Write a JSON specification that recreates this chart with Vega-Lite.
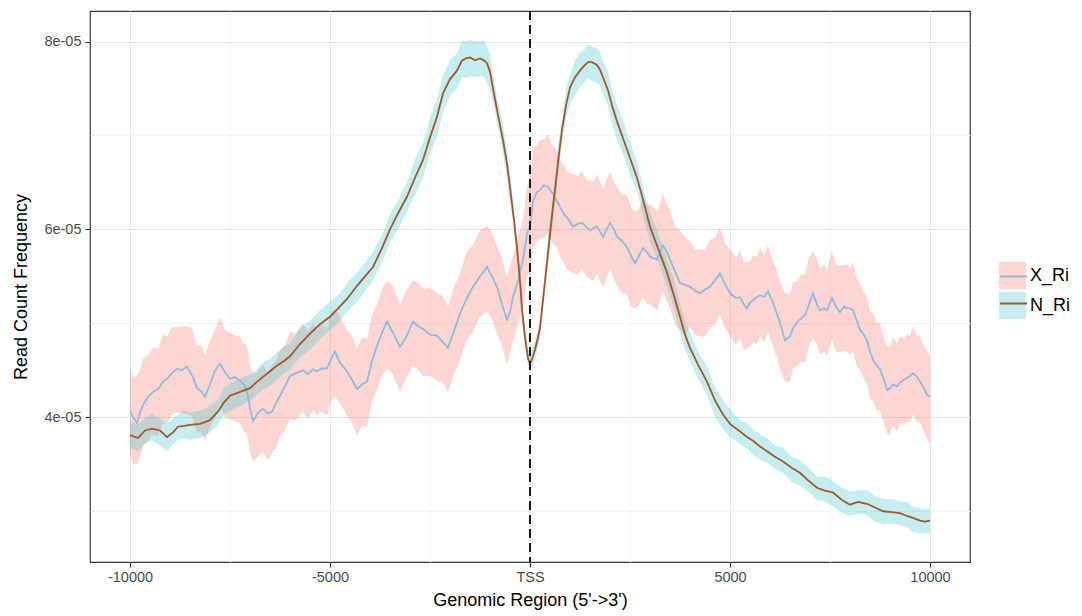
{
 "$schema": "https://vega.github.io/schema/vega-lite/v6.json",
 "width": 880,
 "height": 551,
 "autosize": {"type": "none"},
 "padding": {"left": 90, "top": 11, "right": 112, "bottom": 54},
 "background": "white",
 "config": {
  "font": "Liberation Sans",
  "view": {"stroke": "#3a3a3a", "strokeWidth": 1.2},
  "axis": {"domain": false, "labelFont": "Liberation Sans", "labelFontSize": 14.5, "labelColor": "#4d4d4d", "tickColor": "#333333", "tickSize": 5, "tickWidth": 1, "titleFont": "Liberation Sans", "titleFontSize": 18, "titleFontWeight": "normal", "titleColor": "#000000", "gridWidth": 1},
  "legend": {"labelFont": "Liberation Sans", "labelFontSize": 18, "labelColor": "#000000", "padding": 0, "rowPadding": 3, "labelOffset": 4}
 },
 "data": {"values": [
{"s":"X_Ri","x":-10000,"m":4.07e-5,"lo":3.61e-5,"hi":4.54e-5},
{"s":"X_Ri","x":-9925,"m":4.00e-5,"lo":3.50e-5,"hi":4.43e-5},
{"s":"X_Ri","x":-9825,"m":3.94e-5,"lo":3.50e-5,"hi":4.44e-5},
{"s":"X_Ri","x":-9750,"m":4.05e-5,"lo":3.57e-5,"hi":4.50e-5},
{"s":"X_Ri","x":-9675,"m":4.13e-5,"lo":3.70e-5,"hi":4.62e-5},
{"s":"X_Ri","x":-9550,"m":4.22e-5,"lo":3.75e-5,"hi":4.66e-5},
{"s":"X_Ri","x":-9425,"m":4.27e-5,"lo":3.81e-5,"hi":4.74e-5},
{"s":"X_Ri","x":-9300,"m":4.30e-5,"lo":3.80e-5,"hi":4.73e-5},
{"s":"X_Ri","x":-9175,"m":4.38e-5,"lo":3.94e-5,"hi":4.88e-5},
{"s":"X_Ri","x":-9075,"m":4.41e-5,"lo":3.93e-5,"hi":4.86e-5},
{"s":"X_Ri","x":-8950,"m":4.47e-5,"lo":4.04e-5,"hi":4.96e-5},
{"s":"X_Ri","x":-8825,"m":4.52e-5,"lo":4.05e-5,"hi":4.96e-5},
{"s":"X_Ri","x":-8700,"m":4.50e-5,"lo":4.04e-5,"hi":4.97e-5},
{"s":"X_Ri","x":-8575,"m":4.54e-5,"lo":4.04e-5,"hi":4.97e-5},
{"s":"X_Ri","x":-8450,"m":4.45e-5,"lo":4.01e-5,"hi":4.95e-5},
{"s":"X_Ri","x":-8325,"m":4.31e-5,"lo":3.83e-5,"hi":4.76e-5},
{"s":"X_Ri","x":-8225,"m":4.28e-5,"lo":3.85e-5,"hi":4.77e-5},
{"s":"X_Ri","x":-8125,"m":4.22e-5,"lo":3.75e-5,"hi":4.66e-5},
{"s":"X_Ri","x":-8000,"m":4.35e-5,"lo":3.89e-5,"hi":4.82e-5},
{"s":"X_Ri","x":-7875,"m":4.50e-5,"lo":4.00e-5,"hi":4.93e-5},
{"s":"X_Ri","x":-7750,"m":4.57e-5,"lo":4.13e-5,"hi":5.07e-5},
{"s":"X_Ri","x":-7625,"m":4.48e-5,"lo":4.00e-5,"hi":4.93e-5},
{"s":"X_Ri","x":-7500,"m":4.41e-5,"lo":3.98e-5,"hi":4.90e-5},
{"s":"X_Ri","x":-7375,"m":4.43e-5,"lo":3.96e-5,"hi":4.87e-5},
{"s":"X_Ri","x":-7250,"m":4.39e-5,"lo":3.93e-5,"hi":4.86e-5},
{"s":"X_Ri","x":-7150,"m":4.35e-5,"lo":3.85e-5,"hi":4.78e-5},
{"s":"X_Ri","x":-7075,"m":4.27e-5,"lo":3.83e-5,"hi":4.77e-5},
{"s":"X_Ri","x":-7000,"m":4.10e-5,"lo":3.62e-5,"hi":4.55e-5},
{"s":"X_Ri","x":-6925,"m":3.96e-5,"lo":3.53e-5,"hi":4.45e-5},
{"s":"X_Ri","x":-6800,"m":4.05e-5,"lo":3.58e-5,"hi":4.49e-5},
{"s":"X_Ri","x":-6675,"m":4.09e-5,"lo":3.63e-5,"hi":4.56e-5},
{"s":"X_Ri","x":-6550,"m":4.04e-5,"lo":3.54e-5,"hi":4.47e-5},
{"s":"X_Ri","x":-6450,"m":4.06e-5,"lo":3.62e-5,"hi":4.56e-5},
{"s":"X_Ri","x":-6350,"m":4.15e-5,"lo":3.67e-5,"hi":4.60e-5},
{"s":"X_Ri","x":-6250,"m":4.23e-5,"lo":3.80e-5,"hi":4.72e-5},
{"s":"X_Ri","x":-6125,"m":4.33e-5,"lo":3.86e-5,"hi":4.77e-5},
{"s":"X_Ri","x":-6000,"m":4.44e-5,"lo":3.98e-5,"hi":4.91e-5},
{"s":"X_Ri","x":-5850,"m":4.47e-5,"lo":3.97e-5,"hi":4.90e-5},
{"s":"X_Ri","x":-5675,"m":4.50e-5,"lo":4.06e-5,"hi":5.00e-5},
{"s":"X_Ri","x":-5550,"m":4.46e-5,"lo":3.98e-5,"hi":4.91e-5},
{"s":"X_Ri","x":-5425,"m":4.51e-5,"lo":4.08e-5,"hi":5.00e-5},
{"s":"X_Ri","x":-5325,"m":4.49e-5,"lo":4.02e-5,"hi":4.93e-5},
{"s":"X_Ri","x":-5200,"m":4.52e-5,"lo":4.06e-5,"hi":4.99e-5},
{"s":"X_Ri","x":-5075,"m":4.52e-5,"lo":4.02e-5,"hi":4.95e-5},
{"s":"X_Ri","x":-4975,"m":4.62e-5,"lo":4.18e-5,"hi":5.12e-5},
{"s":"X_Ri","x":-4875,"m":4.70e-5,"lo":4.22e-5,"hi":5.15e-5},
{"s":"X_Ri","x":-4750,"m":4.58e-5,"lo":4.15e-5,"hi":5.07e-5},
{"s":"X_Ri","x":-4575,"m":4.49e-5,"lo":4.02e-5,"hi":4.93e-5},
{"s":"X_Ri","x":-4450,"m":4.40e-5,"lo":3.94e-5,"hi":4.87e-5},
{"s":"X_Ri","x":-4325,"m":4.30e-5,"lo":3.80e-5,"hi":4.73e-5},
{"s":"X_Ri","x":-4200,"m":4.35e-5,"lo":3.91e-5,"hi":4.85e-5},
{"s":"X_Ri","x":-4075,"m":4.38e-5,"lo":3.90e-5,"hi":4.83e-5},
{"s":"X_Ri","x":-3950,"m":4.60e-5,"lo":4.17e-5,"hi":5.09e-5},
{"s":"X_Ri","x":-3825,"m":4.76e-5,"lo":4.29e-5,"hi":5.20e-5},
{"s":"X_Ri","x":-3700,"m":4.90e-5,"lo":4.44e-5,"hi":5.37e-5},
{"s":"X_Ri","x":-3575,"m":5.02e-5,"lo":4.52e-5,"hi":5.45e-5},
{"s":"X_Ri","x":-3425,"m":4.90e-5,"lo":4.46e-5,"hi":5.40e-5},
{"s":"X_Ri","x":-3250,"m":4.75e-5,"lo":4.27e-5,"hi":5.20e-5},
{"s":"X_Ri","x":-3100,"m":4.85e-5,"lo":4.42e-5,"hi":5.34e-5},
{"s":"X_Ri","x":-2925,"m":5.02e-5,"lo":4.55e-5,"hi":5.46e-5},
{"s":"X_Ri","x":-2800,"m":4.97e-5,"lo":4.51e-5,"hi":5.44e-5},
{"s":"X_Ri","x":-2675,"m":4.94e-5,"lo":4.44e-5,"hi":5.37e-5},
{"s":"X_Ri","x":-2500,"m":4.88e-5,"lo":4.44e-5,"hi":5.38e-5},
{"s":"X_Ri","x":-2325,"m":4.87e-5,"lo":4.39e-5,"hi":5.32e-5},
{"s":"X_Ri","x":-2175,"m":4.80e-5,"lo":4.37e-5,"hi":5.29e-5},
{"s":"X_Ri","x":-2050,"m":4.74e-5,"lo":4.27e-5,"hi":5.18e-5},
{"s":"X_Ri","x":-1900,"m":4.92e-5,"lo":4.46e-5,"hi":5.39e-5},
{"s":"X_Ri","x":-1750,"m":5.10e-5,"lo":4.60e-5,"hi":5.53e-5},
{"s":"X_Ri","x":-1600,"m":5.25e-5,"lo":4.81e-5,"hi":5.75e-5},
{"s":"X_Ri","x":-1425,"m":5.39e-5,"lo":4.91e-5,"hi":5.84e-5},
{"s":"X_Ri","x":-1250,"m":5.50e-5,"lo":5.07e-5,"hi":5.99e-5},
{"s":"X_Ri","x":-1075,"m":5.60e-5,"lo":5.13e-5,"hi":6.04e-5},
{"s":"X_Ri","x":-950,"m":5.50e-5,"lo":5.04e-5,"hi":5.97e-5},
{"s":"X_Ri","x":-825,"m":5.39e-5,"lo":4.89e-5,"hi":5.82e-5},
{"s":"X_Ri","x":-700,"m":5.20e-5,"lo":4.76e-5,"hi":5.70e-5},
{"s":"X_Ri","x":-575,"m":5.04e-5,"lo":4.56e-5,"hi":5.49e-5},
{"s":"X_Ri","x":-500,"m":5.12e-5,"lo":4.69e-5,"hi":5.61e-5},
{"s":"X_Ri","x":-425,"m":5.28e-5,"lo":4.81e-5,"hi":5.72e-5},
{"s":"X_Ri","x":-300,"m":5.45e-5,"lo":4.99e-5,"hi":5.92e-5},
{"s":"X_Ri","x":-175,"m":5.68e-5,"lo":5.18e-5,"hi":6.11e-5},
{"s":"X_Ri","x":-75,"m":5.95e-5,"lo":5.51e-5,"hi":6.45e-5},
{"s":"X_Ri","x":0,"m":6.05e-5,"lo":5.51e-5,"hi":6.56e-5},
{"s":"X_Ri","x":75,"m":6.30e-5,"lo":5.81e-5,"hi":6.85e-5},
{"s":"X_Ri","x":175,"m":6.40e-5,"lo":5.87e-5,"hi":6.90e-5},
{"s":"X_Ri","x":250,"m":6.42e-5,"lo":5.90e-5,"hi":6.95e-5},
{"s":"X_Ri","x":350,"m":6.47e-5,"lo":5.91e-5,"hi":6.96e-5},
{"s":"X_Ri","x":450,"m":6.45e-5,"lo":5.95e-5,"hi":7.01e-5},
{"s":"X_Ri","x":575,"m":6.38e-5,"lo":5.84e-5,"hi":6.89e-5},
{"s":"X_Ri","x":675,"m":6.30e-5,"lo":5.81e-5,"hi":6.85e-5},
{"s":"X_Ri","x":750,"m":6.24e-5,"lo":5.71e-5,"hi":6.74e-5},
{"s":"X_Ri","x":850,"m":6.16e-5,"lo":5.64e-5,"hi":6.69e-5},
{"s":"X_Ri","x":925,"m":6.13e-5,"lo":5.57e-5,"hi":6.62e-5},
{"s":"X_Ri","x":1075,"m":6.03e-5,"lo":5.53e-5,"hi":6.59e-5},
{"s":"X_Ri","x":1200,"m":6.06e-5,"lo":5.52e-5,"hi":6.57e-5},
{"s":"X_Ri","x":1300,"m":6.07e-5,"lo":5.58e-5,"hi":6.62e-5},
{"s":"X_Ri","x":1425,"m":6.02e-5,"lo":5.49e-5,"hi":6.52e-5},
{"s":"X_Ri","x":1500,"m":5.99e-5,"lo":5.47e-5,"hi":6.52e-5},
{"s":"X_Ri","x":1600,"m":6.02e-5,"lo":5.46e-5,"hi":6.51e-5},
{"s":"X_Ri","x":1675,"m":6.03e-5,"lo":5.53e-5,"hi":6.59e-5},
{"s":"X_Ri","x":1825,"m":5.92e-5,"lo":5.38e-5,"hi":6.43e-5},
{"s":"X_Ri","x":2000,"m":6.07e-5,"lo":5.58e-5,"hi":6.62e-5},
{"s":"X_Ri","x":2100,"m":6.00e-5,"lo":5.47e-5,"hi":6.50e-5},
{"s":"X_Ri","x":2175,"m":5.92e-5,"lo":5.40e-5,"hi":6.45e-5},
{"s":"X_Ri","x":2300,"m":5.88e-5,"lo":5.32e-5,"hi":6.37e-5},
{"s":"X_Ri","x":2425,"m":5.81e-5,"lo":5.31e-5,"hi":6.37e-5},
{"s":"X_Ri","x":2525,"m":5.72e-5,"lo":5.18e-5,"hi":6.23e-5},
{"s":"X_Ri","x":2625,"m":5.64e-5,"lo":5.15e-5,"hi":6.19e-5},
{"s":"X_Ri","x":2725,"m":5.72e-5,"lo":5.19e-5,"hi":6.22e-5},
{"s":"X_Ri","x":2825,"m":5.80e-5,"lo":5.28e-5,"hi":6.33e-5},
{"s":"X_Ri","x":2925,"m":5.76e-5,"lo":5.20e-5,"hi":6.25e-5},
{"s":"X_Ri","x":3000,"m":5.71e-5,"lo":5.21e-5,"hi":6.27e-5},
{"s":"X_Ri","x":3175,"m":5.68e-5,"lo":5.14e-5,"hi":6.19e-5},
{"s":"X_Ri","x":3325,"m":5.83e-5,"lo":5.34e-5,"hi":6.38e-5},
{"s":"X_Ri","x":3425,"m":5.76e-5,"lo":5.23e-5,"hi":6.26e-5},
{"s":"X_Ri","x":3500,"m":5.68e-5,"lo":5.16e-5,"hi":6.21e-5},
{"s":"X_Ri","x":3625,"m":5.55e-5,"lo":4.99e-5,"hi":6.04e-5},
{"s":"X_Ri","x":3750,"m":5.43e-5,"lo":4.93e-5,"hi":5.99e-5},
{"s":"X_Ri","x":3875,"m":5.41e-5,"lo":4.87e-5,"hi":5.92e-5},
{"s":"X_Ri","x":4000,"m":5.39e-5,"lo":4.96e-5,"hi":5.88e-5},
{"s":"X_Ri","x":4125,"m":5.35e-5,"lo":4.88e-5,"hi":5.79e-5},
{"s":"X_Ri","x":4250,"m":5.32e-5,"lo":4.86e-5,"hi":5.79e-5},
{"s":"X_Ri","x":4375,"m":5.36e-5,"lo":4.86e-5,"hi":5.79e-5},
{"s":"X_Ri","x":4500,"m":5.39e-5,"lo":4.95e-5,"hi":5.89e-5},
{"s":"X_Ri","x":4625,"m":5.46e-5,"lo":4.98e-5,"hi":5.91e-5},
{"s":"X_Ri","x":4750,"m":5.53e-5,"lo":5.10e-5,"hi":6.02e-5},
{"s":"X_Ri","x":4875,"m":5.42e-5,"lo":4.95e-5,"hi":5.86e-5},
{"s":"X_Ri","x":5000,"m":5.32e-5,"lo":4.86e-5,"hi":5.79e-5},
{"s":"X_Ri","x":5150,"m":5.27e-5,"lo":4.77e-5,"hi":5.70e-5},
{"s":"X_Ri","x":5250,"m":5.28e-5,"lo":4.84e-5,"hi":5.78e-5},
{"s":"X_Ri","x":5350,"m":5.20e-5,"lo":4.72e-5,"hi":5.65e-5},
{"s":"X_Ri","x":5425,"m":5.16e-5,"lo":4.73e-5,"hi":5.65e-5},
{"s":"X_Ri","x":5500,"m":5.22e-5,"lo":4.75e-5,"hi":5.66e-5},
{"s":"X_Ri","x":5575,"m":5.25e-5,"lo":4.79e-5,"hi":5.72e-5},
{"s":"X_Ri","x":5675,"m":5.28e-5,"lo":4.78e-5,"hi":5.71e-5},
{"s":"X_Ri","x":5750,"m":5.30e-5,"lo":4.86e-5,"hi":5.80e-5},
{"s":"X_Ri","x":5850,"m":5.28e-5,"lo":4.80e-5,"hi":5.73e-5},
{"s":"X_Ri","x":5950,"m":5.34e-5,"lo":4.91e-5,"hi":5.83e-5},
{"s":"X_Ri","x":6075,"m":5.22e-5,"lo":4.75e-5,"hi":5.66e-5},
{"s":"X_Ri","x":6175,"m":5.10e-5,"lo":4.64e-5,"hi":5.57e-5},
{"s":"X_Ri","x":6250,"m":5.01e-5,"lo":4.51e-5,"hi":5.44e-5},
{"s":"X_Ri","x":6375,"m":4.82e-5,"lo":4.38e-5,"hi":5.32e-5},
{"s":"X_Ri","x":6500,"m":4.86e-5,"lo":4.38e-5,"hi":5.31e-5},
{"s":"X_Ri","x":6575,"m":4.95e-5,"lo":4.52e-5,"hi":5.44e-5},
{"s":"X_Ri","x":6675,"m":5.01e-5,"lo":4.54e-5,"hi":5.45e-5},
{"s":"X_Ri","x":6775,"m":5.05e-5,"lo":4.59e-5,"hi":5.52e-5},
{"s":"X_Ri","x":6875,"m":5.09e-5,"lo":4.59e-5,"hi":5.52e-5},
{"s":"X_Ri","x":6975,"m":5.20e-5,"lo":4.76e-5,"hi":5.70e-5},
{"s":"X_Ri","x":7075,"m":5.32e-5,"lo":4.84e-5,"hi":5.77e-5},
{"s":"X_Ri","x":7175,"m":5.20e-5,"lo":4.77e-5,"hi":5.69e-5},
{"s":"X_Ri","x":7250,"m":5.14e-5,"lo":4.67e-5,"hi":5.58e-5},
{"s":"X_Ri","x":7350,"m":5.16e-5,"lo":4.70e-5,"hi":5.63e-5},
{"s":"X_Ri","x":7425,"m":5.14e-5,"lo":4.64e-5,"hi":5.57e-5},
{"s":"X_Ri","x":7550,"m":5.27e-5,"lo":4.83e-5,"hi":5.77e-5},
{"s":"X_Ri","x":7650,"m":5.18e-5,"lo":4.70e-5,"hi":5.63e-5},
{"s":"X_Ri","x":7750,"m":5.12e-5,"lo":4.69e-5,"hi":5.61e-5},
{"s":"X_Ri","x":7850,"m":5.18e-5,"lo":4.71e-5,"hi":5.62e-5},
{"s":"X_Ri","x":7925,"m":5.16e-5,"lo":4.70e-5,"hi":5.63e-5},
{"s":"X_Ri","x":8000,"m":5.16e-5,"lo":4.66e-5,"hi":5.59e-5},
{"s":"X_Ri","x":8075,"m":5.14e-5,"lo":4.70e-5,"hi":5.64e-5},
{"s":"X_Ri","x":8175,"m":5.02e-5,"lo":4.54e-5,"hi":5.47e-5},
{"s":"X_Ri","x":8250,"m":4.93e-5,"lo":4.50e-5,"hi":5.42e-5},
{"s":"X_Ri","x":8350,"m":4.88e-5,"lo":4.41e-5,"hi":5.32e-5},
{"s":"X_Ri","x":8425,"m":4.82e-5,"lo":4.36e-5,"hi":5.29e-5},
{"s":"X_Ri","x":8500,"m":4.70e-5,"lo":4.20e-5,"hi":5.13e-5},
{"s":"X_Ri","x":8575,"m":4.61e-5,"lo":4.17e-5,"hi":5.11e-5},
{"s":"X_Ri","x":8675,"m":4.55e-5,"lo":4.07e-5,"hi":5.00e-5},
{"s":"X_Ri","x":8750,"m":4.51e-5,"lo":4.08e-5,"hi":5.00e-5},
{"s":"X_Ri","x":8850,"m":4.40e-5,"lo":3.93e-5,"hi":4.84e-5},
{"s":"X_Ri","x":8925,"m":4.29e-5,"lo":3.83e-5,"hi":4.76e-5},
{"s":"X_Ri","x":9000,"m":4.31e-5,"lo":3.81e-5,"hi":4.74e-5},
{"s":"X_Ri","x":9075,"m":4.35e-5,"lo":3.91e-5,"hi":4.85e-5},
{"s":"X_Ri","x":9175,"m":4.33e-5,"lo":3.85e-5,"hi":4.78e-5},
{"s":"X_Ri","x":9250,"m":4.37e-5,"lo":3.94e-5,"hi":4.86e-5},
{"s":"X_Ri","x":9350,"m":4.40e-5,"lo":3.93e-5,"hi":4.84e-5},
{"s":"X_Ri","x":9425,"m":4.42e-5,"lo":3.96e-5,"hi":4.89e-5},
{"s":"X_Ri","x":9500,"m":4.44e-5,"lo":3.94e-5,"hi":4.87e-5},
{"s":"X_Ri","x":9575,"m":4.47e-5,"lo":4.03e-5,"hi":4.97e-5},
{"s":"X_Ri","x":9675,"m":4.43e-5,"lo":3.95e-5,"hi":4.88e-5},
{"s":"X_Ri","x":9750,"m":4.38e-5,"lo":3.95e-5,"hi":4.87e-5},
{"s":"X_Ri","x":9850,"m":4.31e-5,"lo":3.84e-5,"hi":4.75e-5},
{"s":"X_Ri","x":9925,"m":4.24e-5,"lo":3.78e-5,"hi":4.71e-5},
{"s":"X_Ri","x":10000,"m":4.22e-5,"lo":3.72e-5,"hi":4.65e-5},
{"s":"N_Ri","x":-10000,"m":3.81e-5,"lo":3.66e-5,"hi":3.95e-5},
{"s":"N_Ri","x":-9800,"m":3.78e-5,"lo":3.65e-5,"hi":3.93e-5},
{"s":"N_Ri","x":-9625,"m":3.86e-5,"lo":3.72e-5,"hi":3.99e-5},
{"s":"N_Ri","x":-9450,"m":3.88e-5,"lo":3.75e-5,"hi":4.04e-5},
{"s":"N_Ri","x":-9250,"m":3.86e-5,"lo":3.70e-5,"hi":3.99e-5},
{"s":"N_Ri","x":-9075,"m":3.79e-5,"lo":3.64e-5,"hi":3.93e-5},
{"s":"N_Ri","x":-8925,"m":3.84e-5,"lo":3.71e-5,"hi":3.99e-5},
{"s":"N_Ri","x":-8800,"m":3.90e-5,"lo":3.76e-5,"hi":4.03e-5},
{"s":"N_Ri","x":-8650,"m":3.91e-5,"lo":3.78e-5,"hi":4.07e-5},
{"s":"N_Ri","x":-8500,"m":3.92e-5,"lo":3.76e-5,"hi":4.05e-5},
{"s":"N_Ri","x":-8250,"m":3.93e-5,"lo":3.78e-5,"hi":4.07e-5},
{"s":"N_Ri","x":-8000,"m":3.97e-5,"lo":3.84e-5,"hi":4.12e-5},
{"s":"N_Ri","x":-7800,"m":4.06e-5,"lo":3.92e-5,"hi":4.19e-5},
{"s":"N_Ri","x":-7650,"m":4.16e-5,"lo":4.03e-5,"hi":4.32e-5},
{"s":"N_Ri","x":-7500,"m":4.23e-5,"lo":4.07e-5,"hi":4.36e-5},
{"s":"N_Ri","x":-7250,"m":4.27e-5,"lo":4.12e-5,"hi":4.41e-5},
{"s":"N_Ri","x":-7000,"m":4.31e-5,"lo":4.18e-5,"hi":4.46e-5},
{"s":"N_Ri","x":-6850,"m":4.37e-5,"lo":4.23e-5,"hi":4.50e-5},
{"s":"N_Ri","x":-6675,"m":4.43e-5,"lo":4.30e-5,"hi":4.59e-5},
{"s":"N_Ri","x":-6500,"m":4.49e-5,"lo":4.33e-5,"hi":4.62e-5},
{"s":"N_Ri","x":-6325,"m":4.55e-5,"lo":4.40e-5,"hi":4.69e-5},
{"s":"N_Ri","x":-6150,"m":4.60e-5,"lo":4.47e-5,"hi":4.75e-5},
{"s":"N_Ri","x":-6000,"m":4.65e-5,"lo":4.51e-5,"hi":4.78e-5},
{"s":"N_Ri","x":-5750,"m":4.78e-5,"lo":4.64e-5,"hi":4.95e-5},
{"s":"N_Ri","x":-5500,"m":4.89e-5,"lo":4.72e-5,"hi":5.03e-5},
{"s":"N_Ri","x":-5250,"m":4.99e-5,"lo":4.83e-5,"hi":5.14e-5},
{"s":"N_Ri","x":-5000,"m":5.07e-5,"lo":4.93e-5,"hi":5.23e-5},
{"s":"N_Ri","x":-4750,"m":5.18e-5,"lo":5.03e-5,"hi":5.32e-5},
{"s":"N_Ri","x":-4575,"m":5.26e-5,"lo":5.12e-5,"hi":5.43e-5},
{"s":"N_Ri","x":-4325,"m":5.40e-5,"lo":5.23e-5,"hi":5.54e-5},
{"s":"N_Ri","x":-4125,"m":5.50e-5,"lo":5.34e-5,"hi":5.65e-5},
{"s":"N_Ri","x":-3925,"m":5.60e-5,"lo":5.46e-5,"hi":5.76e-5},
{"s":"N_Ri","x":-3700,"m":5.80e-5,"lo":5.65e-5,"hi":5.94e-5},
{"s":"N_Ri","x":-3500,"m":6.00e-5,"lo":5.86e-5,"hi":6.17e-5},
{"s":"N_Ri","x":-3300,"m":6.17e-5,"lo":6.00e-5,"hi":6.31e-5},
{"s":"N_Ri","x":-3075,"m":6.35e-5,"lo":6.19e-5,"hi":6.50e-5},
{"s":"N_Ri","x":-2875,"m":6.55e-5,"lo":6.37e-5,"hi":6.75e-5},
{"s":"N_Ri","x":-2675,"m":6.74e-5,"lo":6.55e-5,"hi":6.92e-5},
{"s":"N_Ri","x":-2500,"m":6.98e-5,"lo":6.80e-5,"hi":7.19e-5},
{"s":"N_Ri","x":-2325,"m":7.20e-5,"lo":6.99e-5,"hi":7.38e-5},
{"s":"N_Ri","x":-2175,"m":7.45e-5,"lo":7.25e-5,"hi":7.64e-5},
{"s":"N_Ri","x":-2000,"m":7.60e-5,"lo":7.42e-5,"hi":7.80e-5},
{"s":"N_Ri","x":-1825,"m":7.69e-5,"lo":7.50e-5,"hi":7.87e-5},
{"s":"N_Ri","x":-1700,"m":7.80e-5,"lo":7.62e-5,"hi":8.01e-5},
{"s":"N_Ri","x":-1600,"m":7.82e-5,"lo":7.61e-5,"hi":8.00e-5},
{"s":"N_Ri","x":-1500,"m":7.83e-5,"lo":7.63e-5,"hi":8.02e-5},
{"s":"N_Ri","x":-1375,"m":7.80e-5,"lo":7.62e-5,"hi":8.00e-5},
{"s":"N_Ri","x":-1250,"m":7.82e-5,"lo":7.63e-5,"hi":8.00e-5},
{"s":"N_Ri","x":-1150,"m":7.80e-5,"lo":7.62e-5,"hi":8.01e-5},
{"s":"N_Ri","x":-1075,"m":7.77e-5,"lo":7.56e-5,"hi":7.95e-5},
{"s":"N_Ri","x":-1000,"m":7.68e-5,"lo":7.48e-5,"hi":7.87e-5},
{"s":"N_Ri","x":-925,"m":7.50e-5,"lo":7.36e-5,"hi":7.66e-5},
{"s":"N_Ri","x":-800,"m":7.22e-5,"lo":7.07e-5,"hi":7.36e-5},
{"s":"N_Ri","x":-675,"m":6.95e-5,"lo":6.81e-5,"hi":7.12e-5},
{"s":"N_Ri","x":-575,"m":6.70e-5,"lo":6.53e-5,"hi":6.84e-5},
{"s":"N_Ri","x":-500,"m":6.45e-5,"lo":6.29e-5,"hi":6.60e-5},
{"s":"N_Ri","x":-400,"m":6.10e-5,"lo":6.01e-5,"hi":6.21e-5},
{"s":"N_Ri","x":-325,"m":5.80e-5,"lo":5.70e-5,"hi":5.89e-5},
{"s":"N_Ri","x":-250,"m":5.45e-5,"lo":5.36e-5,"hi":5.57e-5},
{"s":"N_Ri","x":-200,"m":5.15e-5,"lo":5.03e-5,"hi":5.24e-5},
{"s":"N_Ri","x":-125,"m":4.85e-5,"lo":4.74e-5,"hi":4.95e-5},
{"s":"N_Ri","x":-50,"m":4.63e-5,"lo":4.54e-5,"hi":4.74e-5},
{"s":"N_Ri","x":0,"m":4.57e-5,"lo":4.47e-5,"hi":4.66e-5},
{"s":"N_Ri","x":50,"m":4.62e-5,"lo":4.53e-5,"hi":4.74e-5},
{"s":"N_Ri","x":125,"m":4.72e-5,"lo":4.60e-5,"hi":4.81e-5},
{"s":"N_Ri","x":200,"m":4.85e-5,"lo":4.74e-5,"hi":4.95e-5},
{"s":"N_Ri","x":250,"m":4.95e-5,"lo":4.86e-5,"hi":5.06e-5},
{"s":"N_Ri","x":350,"m":5.35e-5,"lo":5.25e-5,"hi":5.44e-5},
{"s":"N_Ri","x":450,"m":5.75e-5,"lo":5.61e-5,"hi":5.92e-5},
{"s":"N_Ri","x":550,"m":6.15e-5,"lo":5.98e-5,"hi":6.29e-5},
{"s":"N_Ri","x":625,"m":6.42e-5,"lo":6.26e-5,"hi":6.57e-5},
{"s":"N_Ri","x":725,"m":6.80e-5,"lo":6.66e-5,"hi":6.96e-5},
{"s":"N_Ri","x":800,"m":7.06e-5,"lo":6.91e-5,"hi":7.20e-5},
{"s":"N_Ri","x":900,"m":7.32e-5,"lo":7.18e-5,"hi":7.49e-5},
{"s":"N_Ri","x":1000,"m":7.51e-5,"lo":7.34e-5,"hi":7.65e-5},
{"s":"N_Ri","x":1125,"m":7.62e-5,"lo":7.43e-5,"hi":7.80e-5},
{"s":"N_Ri","x":1250,"m":7.69e-5,"lo":7.52e-5,"hi":7.88e-5},
{"s":"N_Ri","x":1350,"m":7.74e-5,"lo":7.56e-5,"hi":7.91e-5},
{"s":"N_Ri","x":1450,"m":7.78e-5,"lo":7.61e-5,"hi":7.98e-5},
{"s":"N_Ri","x":1550,"m":7.78e-5,"lo":7.58e-5,"hi":7.95e-5},
{"s":"N_Ri","x":1675,"m":7.75e-5,"lo":7.56e-5,"hi":7.93e-5},
{"s":"N_Ri","x":1750,"m":7.70e-5,"lo":7.53e-5,"hi":7.89e-5},
{"s":"N_Ri","x":1825,"m":7.62e-5,"lo":7.44e-5,"hi":7.79e-5},
{"s":"N_Ri","x":1950,"m":7.48e-5,"lo":7.31e-5,"hi":7.68e-5},
{"s":"N_Ri","x":2050,"m":7.32e-5,"lo":7.12e-5,"hi":7.49e-5},
{"s":"N_Ri","x":2175,"m":7.15e-5,"lo":6.96e-5,"hi":7.33e-5},
{"s":"N_Ri","x":2325,"m":6.97e-5,"lo":6.80e-5,"hi":7.16e-5},
{"s":"N_Ri","x":2500,"m":6.76e-5,"lo":6.58e-5,"hi":6.93e-5},
{"s":"N_Ri","x":2675,"m":6.55e-5,"lo":6.41e-5,"hi":6.72e-5},
{"s":"N_Ri","x":2825,"m":6.32e-5,"lo":6.15e-5,"hi":6.46e-5},
{"s":"N_Ri","x":3000,"m":6.03e-5,"lo":5.87e-5,"hi":6.18e-5},
{"s":"N_Ri","x":3200,"m":5.80e-5,"lo":5.66e-5,"hi":5.96e-5},
{"s":"N_Ri","x":3425,"m":5.54e-5,"lo":5.39e-5,"hi":5.68e-5},
{"s":"N_Ri","x":3575,"m":5.33e-5,"lo":5.19e-5,"hi":5.50e-5},
{"s":"N_Ri","x":3750,"m":5.07e-5,"lo":4.90e-5,"hi":5.21e-5},
{"s":"N_Ri","x":3875,"m":4.88e-5,"lo":4.72e-5,"hi":5.03e-5},
{"s":"N_Ri","x":4000,"m":4.74e-5,"lo":4.60e-5,"hi":4.90e-5},
{"s":"N_Ri","x":4200,"m":4.56e-5,"lo":4.41e-5,"hi":4.70e-5},
{"s":"N_Ri","x":4425,"m":4.38e-5,"lo":4.24e-5,"hi":4.55e-5},
{"s":"N_Ri","x":4625,"m":4.18e-5,"lo":4.01e-5,"hi":4.32e-5},
{"s":"N_Ri","x":4825,"m":4.03e-5,"lo":3.87e-5,"hi":4.18e-5},
{"s":"N_Ri","x":5000,"m":3.93e-5,"lo":3.79e-5,"hi":4.09e-5},
{"s":"N_Ri","x":5250,"m":3.85e-5,"lo":3.72e-5,"hi":3.97e-5},
{"s":"N_Ri","x":5425,"m":3.79e-5,"lo":3.67e-5,"hi":3.94e-5},
{"s":"N_Ri","x":5575,"m":3.75e-5,"lo":3.60e-5,"hi":3.87e-5},
{"s":"N_Ri","x":5750,"m":3.69e-5,"lo":3.55e-5,"hi":3.82e-5},
{"s":"N_Ri","x":5925,"m":3.64e-5,"lo":3.52e-5,"hi":3.78e-5},
{"s":"N_Ri","x":6125,"m":3.58e-5,"lo":3.45e-5,"hi":3.70e-5},
{"s":"N_Ri","x":6325,"m":3.53e-5,"lo":3.41e-5,"hi":3.68e-5},
{"s":"N_Ri","x":6550,"m":3.46e-5,"lo":3.31e-5,"hi":3.58e-5},
{"s":"N_Ri","x":6750,"m":3.41e-5,"lo":3.27e-5,"hi":3.54e-5},
{"s":"N_Ri","x":6950,"m":3.33e-5,"lo":3.21e-5,"hi":3.47e-5},
{"s":"N_Ri","x":7175,"m":3.25e-5,"lo":3.12e-5,"hi":3.37e-5},
{"s":"N_Ri","x":7375,"m":3.22e-5,"lo":3.10e-5,"hi":3.37e-5},
{"s":"N_Ri","x":7575,"m":3.20e-5,"lo":3.05e-5,"hi":3.32e-5},
{"s":"N_Ri","x":7800,"m":3.12e-5,"lo":2.98e-5,"hi":3.25e-5},
{"s":"N_Ri","x":8000,"m":3.07e-5,"lo":2.95e-5,"hi":3.21e-5},
{"s":"N_Ri","x":8200,"m":3.10e-5,"lo":2.97e-5,"hi":3.22e-5},
{"s":"N_Ri","x":8425,"m":3.08e-5,"lo":2.96e-5,"hi":3.23e-5},
{"s":"N_Ri","x":8625,"m":3.04e-5,"lo":2.89e-5,"hi":3.16e-5},
{"s":"N_Ri","x":8825,"m":3.00e-5,"lo":2.86e-5,"hi":3.13e-5},
{"s":"N_Ri","x":9050,"m":2.99e-5,"lo":2.87e-5,"hi":3.13e-5},
{"s":"N_Ri","x":9250,"m":2.98e-5,"lo":2.85e-5,"hi":3.10e-5},
{"s":"N_Ri","x":9425,"m":2.95e-5,"lo":2.83e-5,"hi":3.10e-5},
{"s":"N_Ri","x":9575,"m":2.93e-5,"lo":2.78e-5,"hi":3.05e-5},
{"s":"N_Ri","x":9750,"m":2.90e-5,"lo":2.76e-5,"hi":3.03e-5},
{"s":"N_Ri","x":9875,"m":2.89e-5,"lo":2.77e-5,"hi":3.03e-5},
{"s":"N_Ri","x":10000,"m":2.90e-5,"lo":2.77e-5,"hi":3.02e-5}
 ]},
 "encoding": {
  "x": {"field": "x", "type": "quantitative", "scale": {"domain": [-11000, 11000], "nice": false, "zero": false},
   "axis": {"title": "Genomic Region (5'->3')", "titlePadding": 8, "labelPadding": 3,
    "values": [-10000, -7500, -5000, -2500, 0, 2500, 5000, 7500, 10000],
    "labelExpr": "datum.value == 0 ? 'TSS' : (datum.value % 5000 == 0 ? '' + datum.value : '')",
    "gridColor": {"condition": {"test": "datum.value % 5000 != 0", "value": "#f3f3f3"}, "value": "#e6e6e6"},
    "tickOpacity": {"condition": {"test": "datum.value % 5000 != 0", "value": 0}, "value": 1}}}
 },
 "layer": [
  {
   "mark": {"type": "area", "opacity": 0.3},
   "encoding": {
    "y": {"field": "lo", "type": "quantitative", "stack": null, "scale": {"domain": [2.46e-5, 8.325e-5], "nice": false, "zero": false},
     "axis": {"title": "Read Count Frequency", "titlePadding": 13, "labelPadding": 4,
      "values": [3e-5, 4e-5, 5e-5, 6e-5, 7e-5, 8e-5],
      "labelExpr": "round(datum.value * 1e5) % 2 == 0 ? round(datum.value * 1e5) + 'e-05' : ''",
      "gridColor": {"condition": {"test": "round(datum.value * 1e5) % 2 == 1", "value": "#f3f3f3"}, "value": "#e6e6e6"},
      "tickOpacity": {"condition": {"test": "round(datum.value * 1e5) % 2 == 1", "value": 0}, "value": 1}}},
    "y2": {"field": "hi"},
    "fill": {"field": "s", "type": "nominal", "sort": "descending", "scale": {"range": ["#F8766D", "#40C8CC"]},
     "legend": {"title": null, "orient": "none", "legendX": 909, "legendY": 251, "symbolType": "square", "symbolSize": 729, "symbolOpacity": 0.3, "symbolStrokeWidth": 0}}
   }
  },
  {
   "mark": {"type": "line", "strokeWidth": 1.8},
   "encoding": {
    "y": {"field": "m", "type": "quantitative", "scale": {"domain": [2.46e-5, 8.325e-5], "nice": false, "zero": false},
     "axis": {"title": "Read Count Frequency", "titlePadding": 13, "labelPadding": 4,
      "values": [3e-5, 4e-5, 5e-5, 6e-5, 7e-5, 8e-5],
      "labelExpr": "round(datum.value * 1e5) % 2 == 0 ? round(datum.value * 1e5) + 'e-05' : ''",
      "gridColor": {"condition": {"test": "round(datum.value * 1e5) % 2 == 1", "value": "#f3f3f3"}, "value": "#e6e6e6"},
      "tickOpacity": {"condition": {"test": "round(datum.value * 1e5) % 2 == 1", "value": 0}, "value": 1}}},
    "stroke": {"field": "s", "type": "nominal", "scale": {"domain": ["X_Ri", "N_Ri"], "range": ["#8fbcdb", "#a65628"]},
     "legend": {"title": null, "orient": "none", "legendX": 909, "legendY": 251, "symbolType": "stroke", "symbolSize": 729, "symbolStrokeWidth": 2, "labelOpacity": 0}}
   }
  },
  {
   "mark": {"type": "rule", "strokeDash": [9, 5], "strokeWidth": 2, "color": "#1a1a1a"},
   "encoding": {"x": {"datum": 0}}
  }
 ]
}
